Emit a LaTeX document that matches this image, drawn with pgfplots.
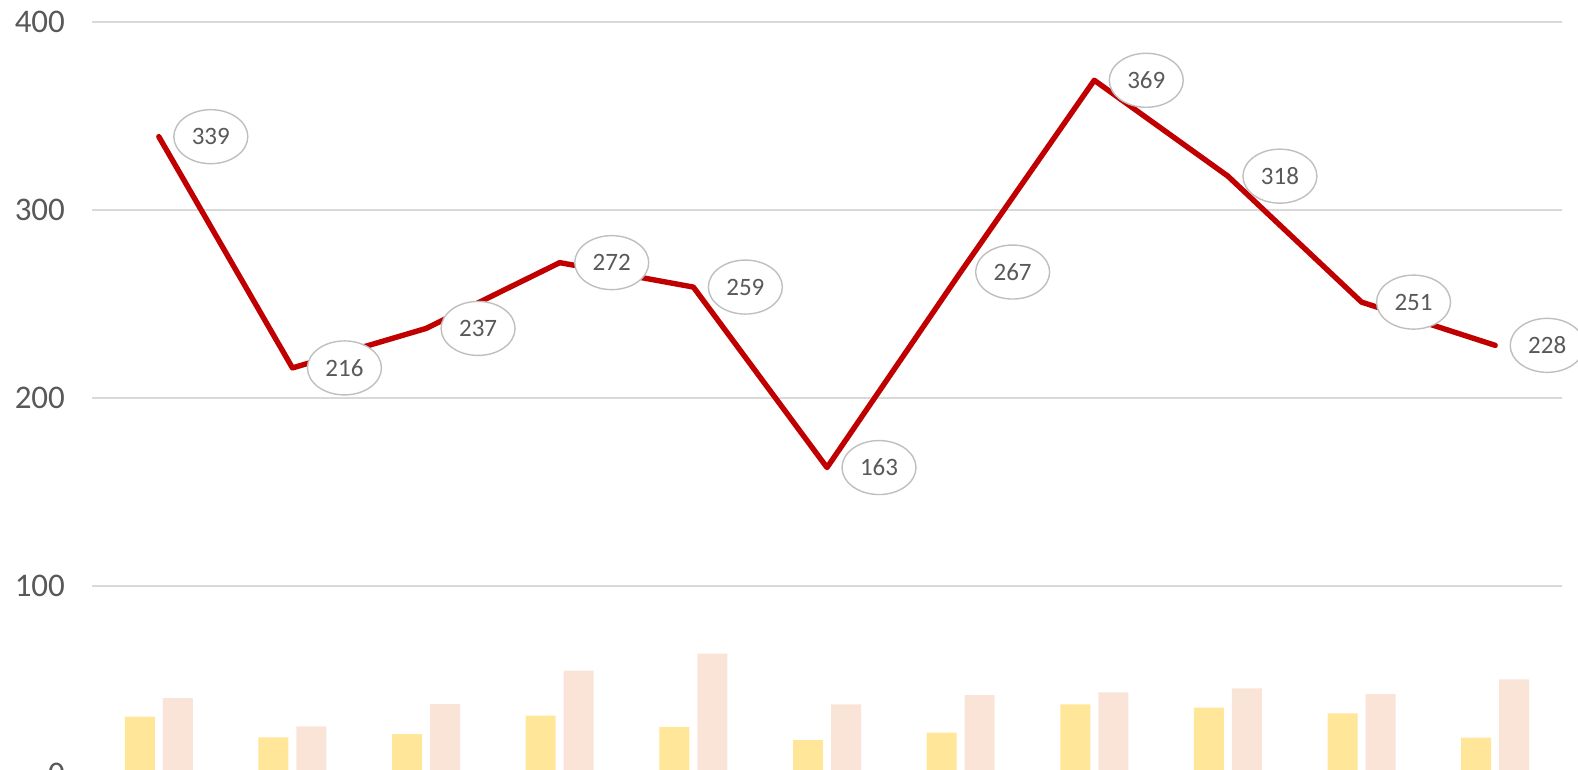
\documentclass[border=0pt]{standalone}
\usepackage{pgfplots}
\pgfplotsset{compat=1.18}
\usepackage{fontspec}
\setmainfont{Carlito}
\usetikzlibrary{shapes.geometric}
\definecolor{linered}{HTML}{C00000}
\definecolor{baryellow}{HTML}{FFE699}
\definecolor{barpeach}{HTML}{FAE3D7}
\definecolor{gridgray}{HTML}{D9D9D9}
\definecolor{textgray}{HTML}{595959}
\definecolor{ellgray}{HTML}{BFBFBF}
\begin{document}
\begin{tikzpicture}
\begin{axis}[
  width=735pt, height=376pt, scale only axis,
  xmin=-0.5, xmax=10.5, ymin=0, ymax=400,
  xtick=\empty, ytick={0,100,200,300,400},
  ymajorgrids, grid style={gridgray, line width=0.75pt},
  axis line style={draw=none}, major tick length=0pt,
  /pgf/number format/assume math mode=true,
  yticklabel style={font=\fontsize{16.5}{19}\selectfont, text=textgray, anchor=east, xshift=-10pt},
  clip=false,
]
\addplot[ybar, bar width=15pt, bar shift=-9.5pt, fill=baryellow, draw=none] coordinates {
(0,30.5) (1,19.5) (2,21.2) (3,31) (4,25) (5,18) (6,22) (7,37) (8,35.3) (9,32.3) (10,19.4)};
\addplot[ybar, bar width=15pt, bar shift=9.5pt, fill=barpeach, draw=none] coordinates {
(0,40.3) (1,25.3) (2,37.2) (3,55) (4,64) (5,37) (6,42) (7,43.4) (8,45.5) (9,42.5) (10,50.3)};
\addplot[linered, line width=2.7pt, line join=round, line cap=round, mark=none,
  nodes near coords,
  nodes near coords style={anchor=center, xshift=26pt, ellipse, draw=ellgray, line width=0.7pt,
    fill=white, text=textgray, font=\fontsize{12.5}{14}\selectfont,
    minimum width=37pt, minimum height=27pt, inner sep=0pt}]
coordinates {
(0,339) (1,216) (2,237) (3,272) (4,259) (5,163) (6,267) (7,369) (8,318) (9,251) (10,228)};
\coordinate (BL) at (rel axis cs:0,0);
\coordinate (TR) at (rel axis cs:1,1);
\end{axis}
\pgfresetboundingbox
\useasboundingbox ([xshift=-46pt,yshift=2pt]BL) rectangle ([xshift=8pt,yshift=11pt]TR);
\end{tikzpicture}
\end{document}
